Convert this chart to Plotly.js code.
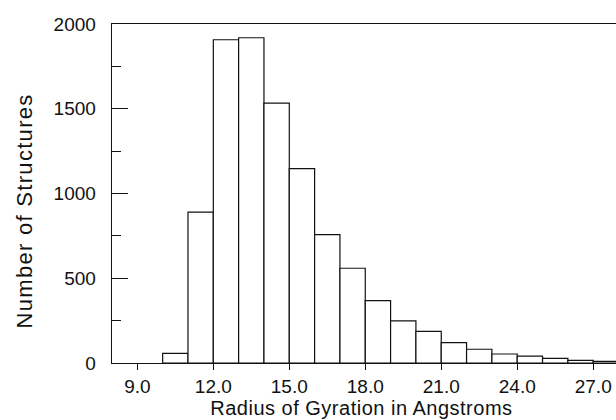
<!DOCTYPE html>
<html>
<head>
<meta charset="utf-8">
<script src="https://cdn.plot.ly/plotly-3.0.1.min.js"></script>
<style>
html,body{margin:0;padding:0;background:#fff;}
#chart .annotation-text.xt{letter-spacing:0.5px;}
#chart .annotation-text.yt{letter-spacing:1.3px;}
</style>
</head>
<body>
<div id="chart" style="width:616px;height:420px;"></div>
<script>
// Histogram bins (lower edge, Angstroms) and counts
const binStarts = [10, 11, 12, 13, 14, 15, 16, 17, 18, 19, 20, 21, 22, 23, 24, 25, 26, 27];
const counts = [57, 890, 1907, 1919, 1533, 1147, 757, 559, 368, 248, 187, 120, 81, 53, 40, 27, 16, 10];
const xTickVals = [9, 12, 15, 18, 21, 24, 27];
const xTickText = ["9.0", "12.0", "15.0", "18.0", "21.0", "24.0", "27.0"];
const yTickVals = [0, 500, 1000, 1500, 2000];
const xTitle = "Radius of Gyration in Angstroms";
const yTitle = "Number of Structures";

const binWidth = 1;
const centers = binStarts.map(b => b + binWidth / 2);
const FONT = "Liberation Sans, Arial, Helvetica, sans-serif";

const trace = {
  type: "bar",
  x: centers,
  y: counts,
  width: binStarts.map(() => binWidth),
  marker: {color: "#ffffff", line: {color: "#111111", width: 1.2}},
  hoverinfo: "x+y"
};

const layout = {
  width: 616, height: 420,
  margin: {l: 112, r: 0, t: 24, b: 57},
  paper_bgcolor: "#ffffff", plot_bgcolor: "#ffffff",
  showlegend: false,
  bargap: 0,
  font: {family: FONT, color: "#111111", size: 19},
  xaxis: {
    range: [8, 27.9],
    tickvals: xTickVals, ticktext: xTickText,
    ticks: "outside", ticklen: 6, tickwidth: 1, tickcolor: "#111111",
    showline: true, linecolor: "#111111", linewidth: 1.3, mirror: true,
    showgrid: false, zeroline: false,
    tickfont: {family: FONT, size: 19, color: "#111111"}
  },
  yaxis: {
    range: [0, 2000],
    tickvals: yTickVals,
    ticks: "inside", ticklen: 16, tickwidth: 1.3, tickcolor: "#111111",
    minor: {dtick: 250, ticks: "inside", ticklen: 9, tickwidth: 1, tickcolor: "#111111", showgrid: false},
    showline: true, linecolor: "#111111", linewidth: 1.3,
    showgrid: false, zeroline: false,
    ticklabelstandoff: 11,
    tickfont: {family: FONT, size: 19, color: "#111111"}
  },
  annotations: [
    {text: xTitle, xref: "paper", yref: "paper",
     x: 0.496, y: -0.133, xanchor: "center", yanchor: "middle", showarrow: false,
     font: {family: FONT, size: 20, color: "#111111"}},
    {text: yTitle, xref: "paper", yref: "paper",
     x: -0.1746, y: 0.447, xanchor: "center", yanchor: "middle", showarrow: false, textangle: -90,
     font: {family: FONT, size: 22, color: "#111111"}}
  ]
};

Plotly.newPlot("chart", [trace], layout, {displayModeBar: false, staticPlot: true}).then(() => {
  const anns = document.querySelectorAll("#chart .annotation-text");
  if (anns[0]) anns[0].classList.add("xt");
  if (anns[1]) anns[1].classList.add("yt");
});
</script>
</body>
</html>
